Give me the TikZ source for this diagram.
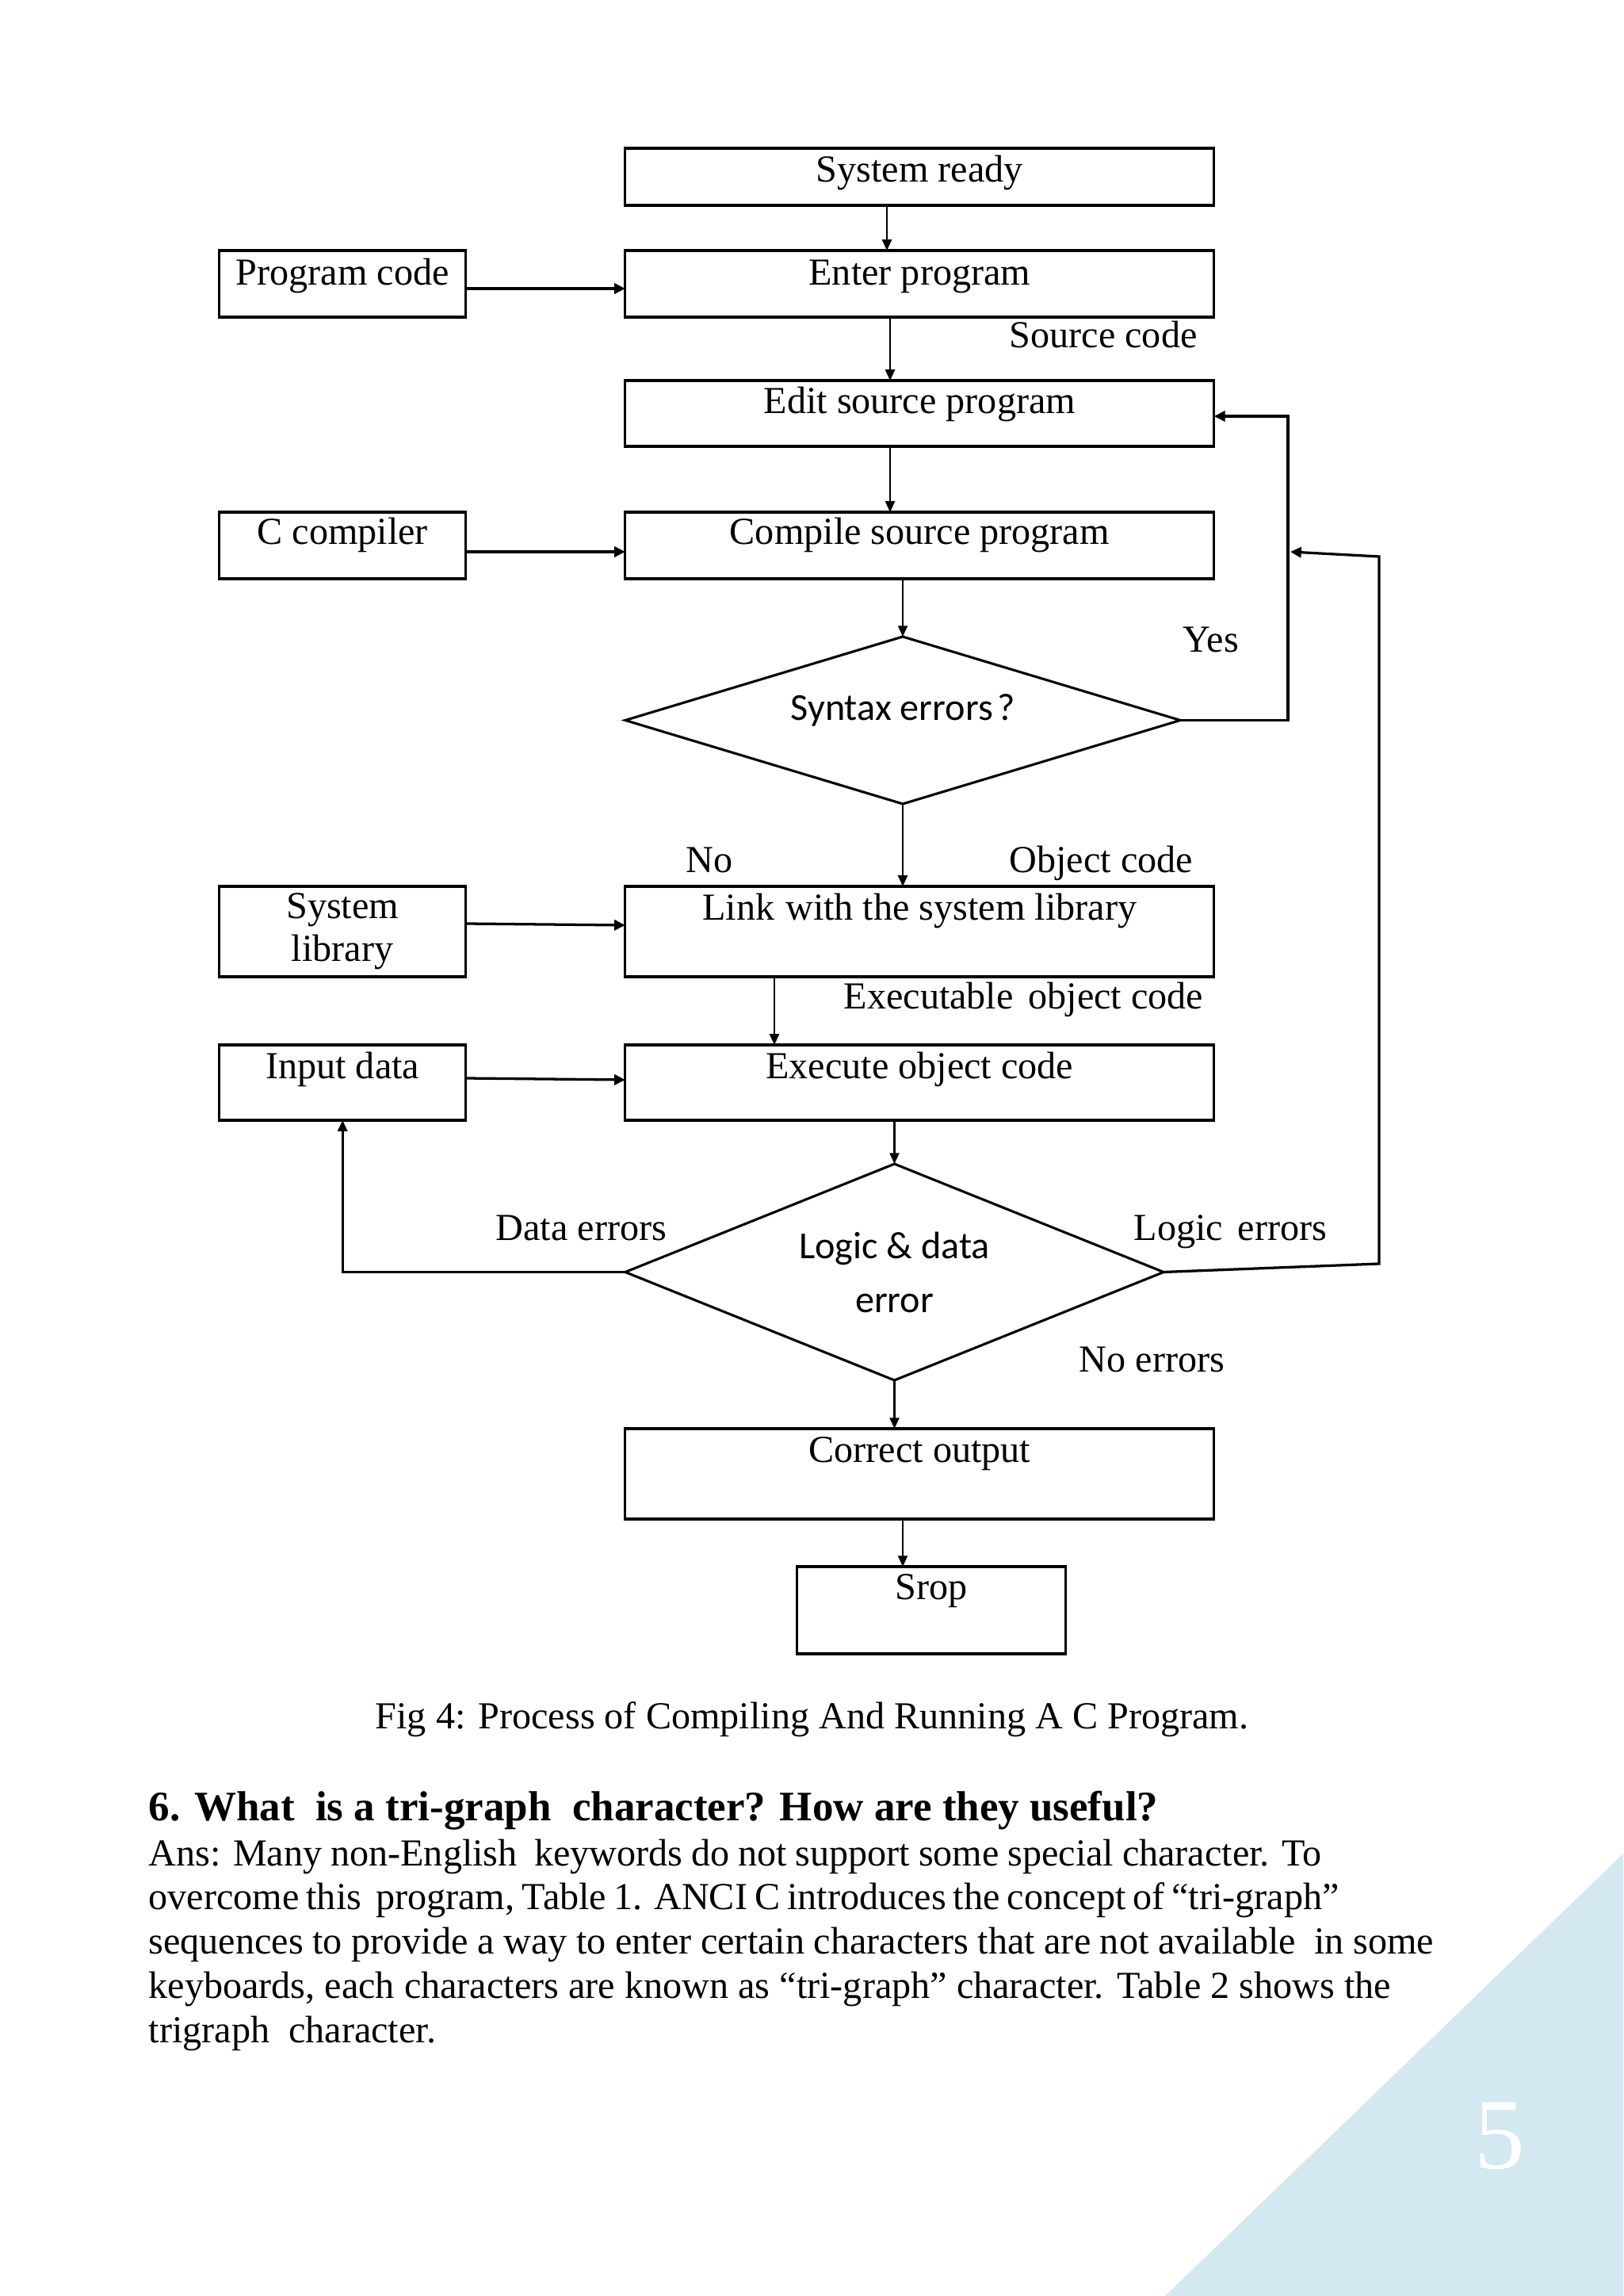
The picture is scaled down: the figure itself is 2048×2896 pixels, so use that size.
\documentclass[tikz,border=0pt]{standalone}
\usepackage{fontspec}
\setmainfont{Liberation Serif}
\newfontfamily\calfont{Carlito}
\usetikzlibrary{shapes.geometric,arrows.meta}
\definecolor{tri}{HTML}{D3E8F0}
\begin{document}
\begin{tikzpicture}[x=0.2906pt,y=-0.2906pt,
  box/.style={draw, line width=0.9pt, rectangle, inner sep=0pt, outer sep=0pt,
    font=\fontsize{14pt}{16pt}\selectfont, text height=9.9pt},
  dia/.style={draw, diamond, line width=0.9pt, inner sep=0pt, outer sep=0pt,
    font=\calfont\fontsize{14pt}{19.76pt}\selectfont},
  lbl/.style={anchor=base west, inner sep=0pt, font=\fontsize{14pt}{16pt}\selectfont},
  arr/.style={line width=0.6pt, -{Triangle[length=4pt,width=3.5pt]}},
  arrT/.style={line width=0.95pt, -{Triangle[length=4pt,width=3.8pt]}}]
\useasboundingbox (0,0) rectangle (2048,2896);
\fill[white] (0,0) rectangle (2048,2896);
\fill[tri] (2048,2338) -- (1470,2896) -- (2048,2896) -- cycle;
\node[text=white, inner sep=0pt, font=\fontsize{37pt}{40pt}\selectfont] (pg) at (1892,2694) {5};

% boxes
\node[box, minimum width=215.9pt, minimum height=20.92pt, text depth=6.39pt] (ready) at (1160.3,223) {System ready};
\node[box, minimum width=215.9pt, minimum height=24.41pt, text depth=9.3pt] (enter) at (1160.3,358) {Enter program};
\node[box, minimum width=90.5pt, minimum height=24.41pt, text depth=9.3pt] (pcode) at (432.2,358) {Program code};
\node[box, minimum width=215.9pt, minimum height=24.12pt, text depth=10.17pt] (edit) at (1160.3,521.5) {Edit source program};
\node[box, minimum width=215.9pt, minimum height=24.41pt, text depth=11.04pt] (compile) at (1160.3,688) {Compile source program};
\node[box, minimum width=90.5pt, minimum height=24.41pt, text depth=11.04pt] (ccomp) at (432.2,688) {C compiler};
\node[dia, shape aspect=3.34, minimum width=203.5pt, minimum height=61.3pt, text height=5pt, text depth=5pt] (syntax) at (1139,908.5) {Syntax errors\kern1.5pt?};
\node[box, minimum width=215.9pt, minimum height=33.13pt, text depth=18.31pt] (link) at (1160.3,1175) {Link\kern4pt with the system library};
\node[draw, line width=0.9pt, rectangle, inner sep=0pt, outer sep=0pt, font=\fontsize{14pt}{15.7pt}\selectfont, align=center, minimum width=90.5pt, minimum height=33.13pt] (slib) at (432.2,1175) {System\\library};
\node[box, minimum width=215.9pt, minimum height=27.61pt, text depth=13.08pt] (exec) at (1160.3,1365.5) {Execute object code};
\node[box, minimum width=90.5pt, minimum height=27.61pt, text depth=13.08pt] (idata) at (432.2,1365.5) {Input data};
\node[dia, shape aspect=2.5, minimum width=197.4pt, minimum height=79.3pt, align=center] (logic) at (1128.5,1604.5) {Logic \& data\\error};
\node[box, minimum width=215.9pt, minimum height=33.13pt, text depth=18.6pt] (correct) at (1160.3,1859) {Correct output};
\node[box, minimum width=98.6pt, minimum height=31.97pt, text depth=18.02pt] (srop) at (1175.2,2031) {Srop};

% connector labels
\node[lbl] (lsrc) at (1273,438.5) {Source code};
\node[lbl] (lyes) at (1492,822) {Yes};
\node[lbl] (lno) at (865,1100) {No};
\node[lbl] (lobj) at (1273,1100) {Object code};
\node[lbl] (lexe) at (1064,1272) {Executable\kern2pt\ object code};
\node[lbl] (ldata) at (625,1564) {Data errors};
\node[lbl] (llog) at (1430,1564) {Logic\kern2pt\ errors};
\node[lbl] (lnoe) at (1361,1730) {No errors};

% bend points
\coordinate (yb) at (1625,525);
\coordinate (lb1) at (1740,1594);
\coordinate (lb2) at (1740,702);
\coordinate (lb3) at (1628,696);

% connectors
\draw[arr] (ready.south -| 1119,0) -- (enter.north -| 1119,0);
\draw[arrT] (pcode.east |- 0,364) -- (enter.west |- 0,364);
\draw[arr] (enter.south -| 1123,0) -- (edit.north -| 1123,0);
\draw[arr] (edit.south -| 1123,0) -- (compile.north -| 1123,0);
\draw[arrT] (ccomp.east |- 0,696) -- (compile.west |- 0,696);
\draw[arr] (compile.south -| syntax.north) -- (syntax.north);
\draw[arrT] (syntax.east) -| (yb) -- (edit.east |- yb);
\draw[arr] (syntax.south) -- (link.north -| syntax.south);
\draw[arrT] (slib.east |- 0,1165) -- (link.west |- 0,1167);
\draw[arr] (link.south -| 977,0) -- (exec.north -| 977,0);
\draw[arrT] (idata.east |- 0,1360) -- (exec.west |- 0,1362);
\draw[arr] (exec.south -| logic.north) -- (logic.north);
\draw[arr, line width=0.8pt] (logic.west) -| (idata.south);
\draw[arrT] (logic.east) -- (lb1) -- (lb2) -- (lb3);
\draw[arr] (logic.south) -- (correct.north -| logic.south);
\draw[arr] (correct.south -| 1139,0) -- (srop.north -| 1139,0);

% caption and text
\node[anchor=base, inner sep=0pt, font=\fontsize{14pt}{16pt}\selectfont] (cap) at (1024.5,2180) {Fig 4: Process of Compiling And Running A C Program.};
\node[anchor=base west, inner sep=0pt, font=\fontsize{15.4pt}{17pt}\selectfont\bfseries] (head) at (187,2296) {6. What\ \ is a tri-graph\ \ character? How are they useful?};
\node[lbl] (t1) at (187,2353) {\makebox[430.1pt][s]{Ans: Many non-English\ \ keywords do not support some special character. To}};
\node[lbl] (t2) at (187,2408) {\makebox[436.5pt][s]{overcome this\ \ program, Table 1. ANCI C introduces the concept of “tri-graph”}};
\node[lbl] (t3) at (187,2464) {\makebox[471.1pt][s]{sequences to provide a way to enter certain characters that are not available\ \ in some}};
\node[lbl] (t4) at (187,2520) {\makebox[455.4pt][s]{keyboards, each characters are known as “tri-graph” character. Table 2 shows the}};
\node[lbl] (t5) at (187,2576) {trigraph\ \ character.};
\end{tikzpicture}
\end{document}
